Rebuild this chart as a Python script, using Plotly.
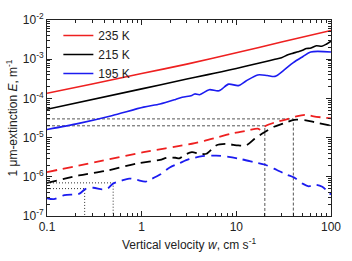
import plotly.graph_objects as go

# ---- data ----
# solid lines
w_red_solid = [0.1, 0.3, 1, 3, 10, 30, 100]
E_red_solid = [1.35e-4, 2.34e-4, 4.3e-4, 7.5e-4, 1.46e-3, 2.74e-3, 5.4e-3]

w_black_solid = [0.1, 1, 3, 5, 7, 10, 15, 20, 25, 30, 35, 40, 45, 50, 55, 60, 70, 80, 90, 100]
E_black_solid = [5.3e-5, 1.75e-4, 3.11e-4, 4.04e-4, 4.8e-4, 5.8e-4, 7.3e-4, 8.6e-4, 9.8e-4,
                 1.09e-3, 1.3e-3, 1.43e-3, 1.55e-3, 1.68e-3, 1.87e-3, 1.9e-3, 2.2e-3, 2.14e-3,
                 2.45e-3, 2.88e-3]

w_blue_solid = [0.1, 0.217, 0.483, 1.048, 1.563, 2.28, 2.68, 3.39, 3.64, 4.09, 5.18, 6.55, 8.29,
                10.5, 12.65, 16.8, 21.2, 25.6, 31.6, 40, 50.6, 61.1, 100]
E_blue_solid = [1.61e-5, 2.31e-5, 3.62e-5, 5.98e-5, 7.19e-5, 9.42e-5, 1.07e-4, 1.19e-4, 1.30e-4,
                1.24e-4, 1.67e-4, 1.56e-4, 2.31e-4, 2.12e-4, 2.78e-4, 3.97e-4, 3.84e-4, 3.64e-4,
                5.2e-4, 8.2e-4, 1.17e-3, 1.53e-3, 1.53e-3]

# dashed lines
w_red_dash = [0.1, 0.324, 1.048, 3.39, 4.61, 6.55, 9.31, 13.25, 16.8, 18.5, 20.5, 25.6, 33.9,
              42.9, 54.3, 65.5, 86.9, 100]
E_red_dash = [1.32e-6, 2.36e-6, 4.24e-6, 6.97e-6, 8.28e-6, 1.04e-5, 1.30e-5, 1.52e-5, 1.70e-5,
              1.55e-5, 2.0e-5, 2.44e-5, 2.92e-5, 3.48e-5, 3.82e-5, 3.48e-5, 3.2e-5, 3.08e-5]

w_black_dash = [0.1, 0.217, 0.439, 0.889, 1.563, 1.84, 2.28, 2.50, 2.88, 3.39, 4.09, 4.83, 6.11,
                7.72, 10.5, 12.65, 15.6, 19.8, 25.0, 31.6, 40.9, 54.3, 68.7, 100]
E_black_dash = [7.0e-7, 1.08e-6, 1.45e-6, 2.18e-6, 2.70e-6, 3.06e-6, 3.06e-6, 2.96e-6, 3.68e-6,
                4.24e-6, 3.88e-6, 3.88e-6, 6.3e-6, 6.89e-6, 6.3e-6, 6.3e-6, 9.37e-6, 1.37e-5,
                1.89e-5, 2.3e-5, 2.85e-5, 2.75e-5, 2.44e-5, 2.03e-5]

w_blue_dash = [0.1, 0.118, 0.153, 0.217, 0.256, 0.309, 0.382, 0.439, 0.494, 0.611, 0.737, 0.889,
               1.10, 1.26, 1.563, 1.98, 2.50, 3.16, 4.39, 6.11, 8.29, 11.25, 15.6, 20.2, 26.8,
               33.9, 40.9, 50.6, 58.2, 68.7, 80.9, 100]
E_blue_dash = [2.84e-7, 2.69e-7, 3.41e-7, 3.66e-7, 4.9e-7, 5.26e-7, 4.8e-7, 5.06e-7, 6.6e-7,
               7.93e-7, 9.02e-7, 8.37e-7, 7.51e-7, 8.69e-7, 1.14e-6, 1.73e-6, 2.21e-6, 2.81e-6,
               3.36e-6, 3.48e-6, 3.23e-6, 2.81e-6, 2.34e-6, 2.03e-6, 1.49e-6, 1.14e-6, 9.53e-7,
               6.63e-7, 5.73e-7, 6.28e-7, 5.55e-7, 3.52e-7]

# guide lines (threshold extinction -> vertical velocity)
dash_guide_E = [2e-5, 3e-5]
dash_guide_w = [20, 40]
dot_guide_E = [5e-7, 7e-7]
dot_guide_w = [0.25, 0.5]

x_min, x_max = 0.1, 100
y_min, y_max = 1e-7, 1e-2

series_names = ["235 K", "215 K", "195 K"]
series_colors = ["#ee2020", "#000000", "#1c1cf0"]

x_tickvals = [0.1, 1, 10, 100]
x_ticktext = ["0.1", "1", "10", "100"]
y_tickvals = [1e-7, 1e-6, 1e-5, 1e-4, 1e-3, 1e-2]
y_ticktext = ["10<sup>-7</sup>", "10<sup>-6</sup>", "10<sup>-5</sup>", "10<sup>-4</sup>",
              "10<sup>-3</sup>", "10<sup>-2</sup>"]

fig = go.Figure()

# guide lines first (below curves)
for E, w in zip(dash_guide_E, dash_guide_w):
    fig.add_trace(go.Scatter(x=[x_min, w, w], y=[E, E, y_min], mode="lines",
                             line=dict(color="#555555", width=1, dash="3px,2px"),
                             showlegend=False, hoverinfo="skip"))
for E, w in zip(dot_guide_E, dot_guide_w):
    fig.add_trace(go.Scatter(x=[x_min, w, w], y=[E, E, y_min], mode="lines",
                             line=dict(color="#333333", width=1, dash="1px,2px"),
                             showlegend=False, hoverinfo="skip"))

solids = [(w_red_solid, E_red_solid), (w_black_solid, E_black_solid), (w_blue_solid, E_blue_solid)]
dashes = [(w_red_dash, E_red_dash), (w_black_dash, E_black_dash), (w_blue_dash, E_blue_dash)]

for (w, E), name, col in zip(dashes, series_names, series_colors):
    fig.add_trace(go.Scatter(x=w, y=E, mode="lines", line=dict(color=col, width=1.8, dash="10px,6px",
                                                              shape="spline", smoothing=0.8),
                             showlegend=False))
for (w, E), name, col in zip(solids, series_names, series_colors):
    fig.add_trace(go.Scatter(x=w, y=E, mode="lines", name=name,
                             line=dict(color=col, width=1.6, shape="spline", smoothing=0.8)))

minor_x = [k * 10 ** n for n in (-1, 0, 1) for k in range(2, 10)]
minor_y = [k * 10 ** n for n in (-7, -6, -5, -4, -3) for k in range(2, 10)]

axis_common = dict(showline=True, linecolor="#222222", linewidth=1, mirror="allticks",
                   ticks="inside", ticklen=5, tickcolor="#222222", showgrid=False, zeroline=False,
                   tickfont=dict(size=12, color="#222222"))

fig.update_xaxes(type="log", range=[-1, 2], tickmode="array", tickvals=x_tickvals,
                 ticktext=x_ticktext,
                 minor=dict(ticks="inside", ticklen=3, tickcolor="#222222", tickmode="array",
                            tickvals=minor_x, showgrid=False),
                 title=dict(text="Vertical velocity <i>w</i>, cm s<sup>-1</sup>",
                            font=dict(size=12, color="#222222"), standoff=7),
                 **axis_common)
fig.update_yaxes(type="log", range=[-7, -2], tickmode="array", tickvals=y_tickvals,
                 ticktext=y_ticktext,
                 minor=dict(ticks="inside", ticklen=3, tickcolor="#222222", tickmode="array",
                            tickvals=minor_y, showgrid=False),
                 title=dict(text="1 μm-extinction <i>E</i>, m<sup>-1</sup>",
                            font=dict(size=12, color="#222222"), standoff=2),
                 **axis_common)

fig.update_layout(
    width=352, height=261,
    margin=dict(l=47, r=11, t=12, b=36),
    paper_bgcolor="white", plot_bgcolor="white",
    font=dict(family="Liberation Sans, Arial, sans-serif", size=12, color="#222222"),
    legend=dict(x=0.04, y=0.995, xanchor="left", yanchor="top", bgcolor="rgba(0,0,0,0)",
                font=dict(size=12, color="#222222"), tracegroupgap=0),
)

fig.write_html("out.html")
